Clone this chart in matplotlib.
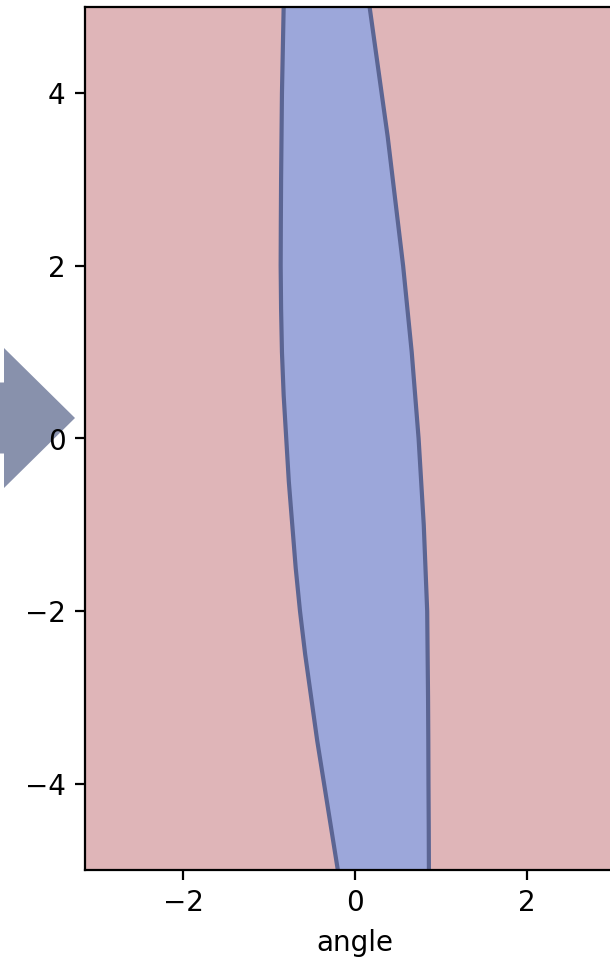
import numpy as np
import matplotlib
matplotlib.use("Agg")
import matplotlib.pyplot as plt
from matplotlib.patches import FancyArrow

# Boundary of the blue (stable) band: angular velocity levels and angle limits
velocity = [5, 4.5, 4, 3.5, 3, 2.5, 2, 1.5, 1, 0.5, 0, -0.5, -1, -1.5, -2,
            -2.5, -3, -3.5, -4, -4.5, -5]
angle_left = [-0.83, -0.84, -0.85, -0.855, -0.86, -0.863, -0.865, -0.86, -0.85,
              -0.83, -0.80, -0.77, -0.73, -0.69, -0.64, -0.58, -0.51, -0.44,
              -0.36, -0.28, -0.20]
angle_right = [0.17, 0.24, 0.31, 0.38, 0.44, 0.50, 0.56, 0.61, 0.66, 0.70, 0.74,
               0.77, 0.80, 0.82, 0.84, 0.845, 0.85, 0.853, 0.855, 0.858, 0.86]

x_ticks = [-2, 0, 2]
y_ticks = [-4, -2, 0, 2, 4]

RED = "#DFB5B8"
BLUE = "#9CA7DA"
EDGE = "#5B6593"
ARROW = "#8891AC"

W, H, DPI = 610, 972, 200
fig = plt.figure(figsize=(W / DPI, H / DPI), dpi=DPI)

# pixel-space overlay for the pointer arrow on the left
ov = fig.add_axes([0, 0, 1, 1], zorder=0)
ov.set_xlim(0, W)
ov.set_ylim(H, 0)
ov.axis("off")
ov.add_patch(FancyArrow(-30, 418, 105, 0, width=71, head_width=140,
                        head_length=71, length_includes_head=True,
                        color=ARROW, linewidth=0))

# main axes (extends slightly past the right edge of the canvas)
left_px, right_px, top_px, bottom_px = 85, 625, 7, 870
ax = fig.add_axes([left_px / W, 1 - bottom_px / H,
                   (right_px - left_px) / W, (bottom_px - top_px) / H], zorder=1)
ax.set_facecolor(RED)
ax.fill_betweenx(velocity, angle_left, angle_right, color=BLUE, linewidth=0)
ax.plot(angle_left, velocity, color=EDGE, lw=1.5, solid_joinstyle="round")
ax.plot(angle_right, velocity, color=EDGE, lw=1.5, solid_joinstyle="round")

ax.set_xlim(-np.pi, np.pi)
ax.set_ylim(-5, 5)
ax.set_xticks(x_ticks)
ax.set_yticks(y_ticks)
ax.set_xlabel("angle")

fig.savefig("out.png", dpi=DPI)
